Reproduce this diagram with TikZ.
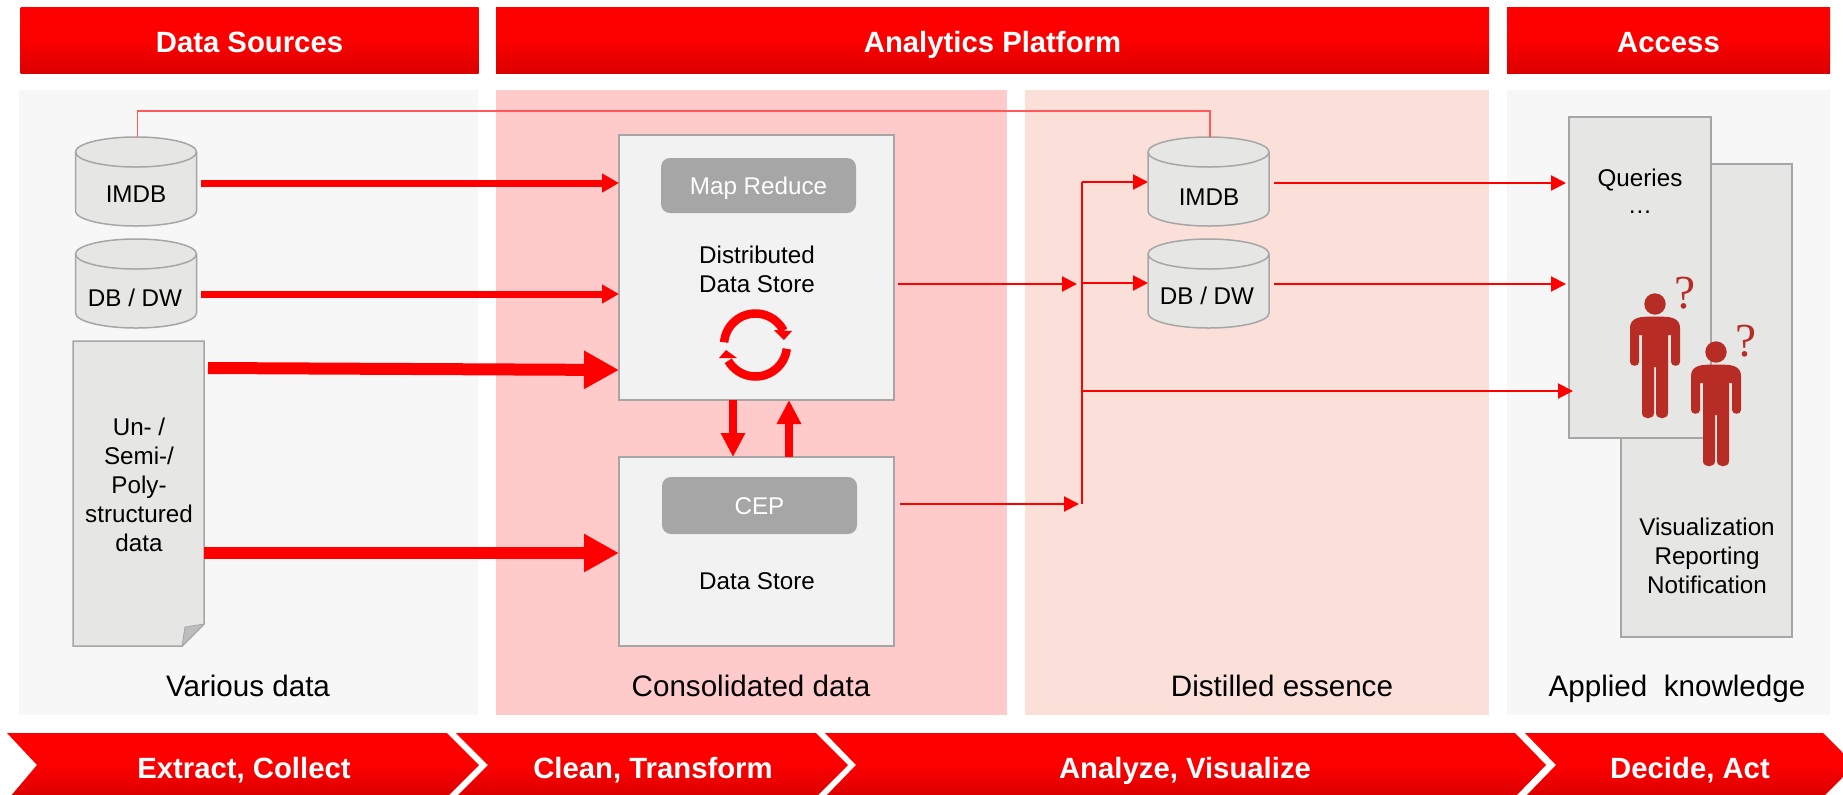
\documentclass[tikz,border=0pt]{standalone}
\usepackage{fontspec}
\setmainfont{Liberation Sans}
\newfontfamily\qfont{Liberation Serif}
\usetikzlibrary{arrows.meta,calc}
\def\u{0.5pt}
\definecolor{edgegray}{HTML}{A6A6A6}
\definecolor{bodygray}{HTML}{E6E6E4}
\definecolor{storegray}{HTML}{F2F2F2}
\definecolor{panelgray}{HTML}{F7F7F7}
\definecolor{panelpink}{HTML}{FFCACA}
\definecolor{panelrose}{HTML}{FBE0DA}
\definecolor{foldgray}{HTML}{BDBDBD}
\definecolor{personred}{HTML}{B72D25}
\definecolor{darkband}{HTML}{DA0000}
\tikzset{
  x=0.5pt,y=-0.5pt,
  band/.style={top color=red,bottom color=darkband,middle color=red!92!darkband},
  header/.style={band,inner sep=0pt,outer sep=0pt,text=white,font=\fontsize{14.65}{17}\selectfont\bfseries,text height=12.2pt,text depth=0pt},
  bandtext/.style={inner sep=0pt,text=white,font=\fontsize{14.65}{17}\selectfont\bfseries,text height=10.4pt,text depth=0pt},
  panel/.style={inner sep=0pt,outer sep=0pt},
  grayrect/.style={draw=edgegray,line width=.75pt,fill=bodygray,inner sep=0pt,outer sep=0pt},
  storebox/.style={draw=edgegray,line width=.75pt,fill=storegray,inner sep=0pt,outer sep=0pt},
  enginebox/.style={fill=edgegray,rounded corners=4.5pt,inner sep=0pt,outer sep=0pt,text=white,font=\fontsize{12.1}{14}\selectfont,text height=8.6pt,text depth=0pt},
  holder/.style={inner sep=0pt,outer sep=0pt},
  label/.style={inner sep=0pt,font=\fontsize{12.1}{14.5}\selectfont,text height=8.6pt,text depth=0pt},
  multilabel/.style={inner sep=0pt,align=center,font=\fontsize{12.1}{14.5}\selectfont},
  biglabel/.style={inner sep=0pt,font=\fontsize{14.8}{17}\selectfont,text height=10.4pt,text depth=0pt},
  askmark/.style={inner sep=0pt,text=personred,font=\qfont\fontsize{23.7}{26}\selectfont},
  thinarrow/.style={draw=red,line width=1pt,-{Triangle[length=7.5pt,width=7.5pt]}},
  thinline/.style={draw=red,line width=1pt},
  midarrow/.style={draw=red,line width=3.5pt,-{Triangle[length=8.5pt,width=9pt]}},
  vertarrow/.style={draw=red,line width=4pt,-{Triangle[length=12pt,width=11.5pt]}},
  hugearrow/.style={draw=red,line width=6pt,-{Triangle[length=17.5pt,width=18pt]}},
  cycleband/.style={draw=red,line width=4.25pt},
  linkline/.style={draw=red!65!white,line width=.6pt},
}
\newcommand{\cylnode}[3]{%
  \node[holder,minimum width={121*\u},minimum height={89*\u}] (#1) at (#2,#3) {};
  \path[draw=edgegray,line width=.75pt,fill=bodygray] (#2,#3) ++(-60.5,-29.5)
     arc[start angle=180,end angle=0,x radius=30.25pt,y radius=7.5pt] -- ++(0,59)
     arc[start angle=0,end angle=-180,x radius=30.25pt,y radius=7.5pt] -- cycle;
  \path[draw=edgegray,line width=.75pt] (#2,#3) ++(-60.5,-29.5)
     arc[start angle=180,end angle=360,x radius=30.25pt,y radius=7.5pt];
}
\newcommand{\personfig}[2]{%
  \begin{scope}[shift={(#1,#2)}]
    \fill[personred] (0,0) circle[radius=5.35pt];
    \fill[personred] (-25,24) .. controls (-25,15) and (-17,12.7) .. (-8,12.7) -- (8,12.7)
      .. controls (17,12.7) and (25,15) .. (25,24) -- (25,58)
      .. controls (25,63) and (16,63) .. (16,58) -- (16,31) -- (13,31) -- (13,109)
      .. controls (13,116) and (1,116) .. (1,109) -- (1,63) -- (-1,63) -- (-1,109)
      .. controls (-1,116) and (-13,116) .. (-13,109) -- (-13,31) -- (-16,31) -- (-16,58)
      .. controls (-16,63) and (-25,63) .. (-25,58) -- cycle;
  \end{scope}
}
\begin{document}
\begin{tikzpicture}
\useasboundingbox (0,0) rectangle (1843,794);
\clip (0,0) rectangle (1843,794);

% headers
\node[header,minimum width={458*\u},minimum height={66*\u}] (hSources) at (249.5,40.5) {Data Sources};
\node[header,minimum width={993*\u},minimum height={66*\u}] (hPlatform) at (992.5,40.5) {Analytics Platform};
\node[header,minimum width={323*\u},minimum height={66*\u}] (hAccess) at (1668.5,40.5) {Access};

% panels
\node[panel,fill=panelgray,minimum width={459*\u},minimum height={625*\u}] (pSources) at (248.5,402.5) {};
\node[panel,fill=panelpink,minimum width={511*\u},minimum height={625*\u}] (pClean) at (751.5,402.5) {};
\node[panel,fill=panelrose,minimum width={464*\u},minimum height={625*\u}] (pDistil) at (1257,402.5) {};
\node[panel,fill=panelgray,minimum width={323*\u},minimum height={625*\u}] (pAccess) at (1668.5,402.5) {};

% chevrons
\path[band] (7,733) -- (447,733) -- (479,765) -- (447,797) -- (10,797) -- (37,765) -- cycle;
\path[band] (456,733) -- (816,733) -- (848,765) -- (816,797) -- (456,797) -- (488,765) -- cycle;
\path[band] (825,733) -- (1515,733) -- (1546,765) -- (1515,797) -- (825,797) -- (856,765) -- cycle;
\path[band] (1525,733) -- (1823,733) -- (1855,765) -- (1823,797) -- (1525,797) -- (1556,765) -- cycle;
\node[bandtext] (cExtract) at (244,768) {Extract, Collect};
\node[bandtext] (cClean) at (653,768) {Clean, Transform};
\node[bandtext] (cAnalyze) at (1185,768) {Analyze, Visualize};
\node[bandtext] (cDecide) at (1690,768) {Decide, Act};

% sources
\cylnode{cylA}{136}{181.5}
\cylnode{cylB}{136}{283.5}
\node[label] (tA) at (136,194) {IMDB};
\node[label] (tB) at (135,298) {DB / DW};
\node[holder,minimum width={131*\u},minimum height={305*\u}] (doc) at (138.5,493.5) {};
\path[draw=edgegray,line width=.75pt,fill=bodygray] (73,341) -- (204,341) -- (204,624) -- (182,646) -- (73,646) -- cycle;
\path[draw=edgegray,line width=.4pt,fill=foldgray] (182,646) -- (185,627) -- (204,624) -- cycle;
\node[multilabel] (tDoc) at (139,485) {Un- /\\Semi-/\\Poly-\\structured\\data};

% stores
\node[storebox,minimum width={275*\u},minimum height={265*\u}] (storeA) at (756.5,267.5) {};
\node[storebox,minimum width={275*\u},minimum height={189*\u}] (storeB) at (756.5,551.5) {};
\node[enginebox,minimum width={195*\u},minimum height={55*\u}] (mapred) at (758.5,185.5) {Map Reduce};
\node[enginebox,minimum width={195*\u},minimum height={57*\u}] (cep) at (759.5,505.5) {CEP};
\node[multilabel] (tDist) at (757,269) {Distributed\\Data Store};
\node[label] (tStore) at (757,581) {Data Store};

% cycle symbol
\draw[cycleband] (755.5,345) ++(-175:31.5) arc[start angle=175,end angle=27,radius=15.75pt];
\draw[cycleband] (755.5,345) ++(7:31.5) arc[start angle=-7,end angle=-150,radius=15.75pt];
\fill[red] (774,330) -- (792,331) -- (784,340) -- cycle;
\fill[red] (719,358) -- (737,358) -- (726,350) -- cycle;

% distilled stores
\cylnode{cylC}{1208.5}{181.5}
\cylnode{cylD}{1208.5}{283.5}
\node[label] (tC) at (1209,197) {IMDB};
\node[label] (tD) at (1207,296) {DB / DW};

% access boxes
\node[grayrect,minimum width={171*\u},minimum height={473*\u}] (back) at (1706.5,400.5) {};
\node[grayrect,minimum width={142*\u},minimum height={321*\u}] (front) at (1640,277.5) {};
\node[label] (tQ) at (1640,178) {Queries};
\node[label] (tDots) at (1640,205) {\ldots};
\node[multilabel] (tVis) at (1707,556) {Visualization\\Reporting\\Notification};
\personfig{1655}{304}
\personfig{1716}{352}
\node[askmark] (q1) at (1685.5,293) {?};
\node[askmark] (q2) at (1746.5,341) {?};

% bottom captions
\node[biglabel] (lVar) at (248,686) {Various data};
\node[biglabel] (lCon) at (751,686) {Consolidated data};
\node[biglabel] (lDis) at (1282,686) {Distilled essence};
\node[biglabel] (lApp) at (1677,686) {Applied\ \ knowledge};

% link line
\coordinate (linkTurn) at (1210,111);
\draw[linkline] ([xshift=.75pt]cylA.north) |- (linkTurn) -- (linkTurn |- cylC.north);

% sources to stores
\draw[midarrow] ([shift={(65,1.5)}]cylA.center) -- ([shift={(0,-84.5)}]storeA.west);
\draw[midarrow] ([shift={(65,10.5)}]cylB.center) -- ([shift={(0,26.5)}]storeA.west);
\draw[hugearrow] ([shift={(4,-125.5)}]doc.east) -- ([shift={(0,102.5)}]storeA.west);
\draw[hugearrow] ([shift={(0,59.5)}]doc.east) -- ([shift={(0,1.5)}]storeB.west);

% between stores
\draw[vertarrow] ([xshift=-11.75pt]storeA.south) -- ([xshift=-11.75pt]storeB.north);
\draw[vertarrow] ([xshift=16.25pt]storeB.north) -- ([xshift=16.25pt]storeA.south);

% bus and outgoing connectors
\coordinate (busTop) at (1082,182);
\coordinate (busMid) at (1082,391);
\coordinate (busLow) at (1082,504);
\coordinate (busCut) at (1083,283);
\coordinate (busInA) at (1077,284);
\coordinate (busInB) at (1079,504);
\draw[thinline] (busLow) -- (busTop);
\draw[thinarrow] ([shift={(4,16.5)}]storeA.east) -- (busInA);
\draw[thinarrow] ([shift={(6,-47.5)}]storeB.east) -- (busInB);
\draw[thinarrow] (busTop) -- (busTop -| cylC.west);
\draw[thinarrow] (busCut) -- (busCut -| cylD.west);
\draw[thinarrow] (busMid) -- ([xshift=2pt]front.west |- busMid);
\draw[thinarrow] ([shift={(65.5,1.5)}]cylC.center) -- ([shift={(-3,-94.5)}]front.west);
\draw[thinarrow] ([shift={(65.5,.5)}]cylD.center) -- ([shift={(-3,6.5)}]front.west);
\end{tikzpicture}
\end{document}
